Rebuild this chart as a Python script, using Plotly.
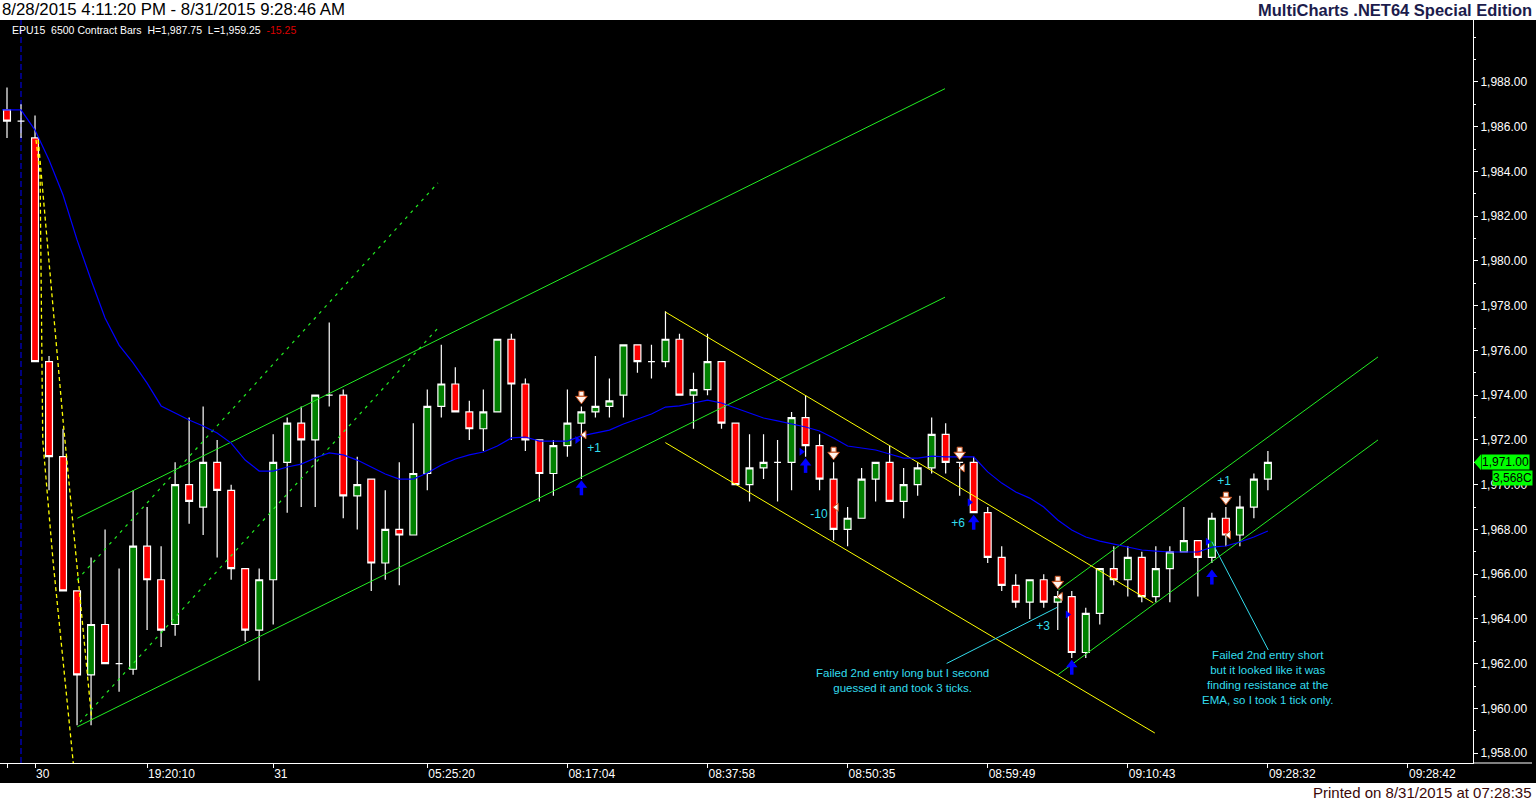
import plotly.graph_objects as go

# ---------------- data ----------------
bars = list(range(91))
open_ = [1986.75, 1986.25, 1985.5, 1975.5, 1971.25, 1965.25, 1961.5, 1963.75, 1962.0, 1961.75,
         1967.25, 1965.75, 1963.75, 1970.0, 1969.0, 1971.0, 1969.75, 1966.25, 1963.5, 1965.75,
         1971.0, 1972.75, 1972.0, 1974.0, 1974.0, 1969.5, 1970.25, 1966.5, 1968.0, 1967.75,
         1970.5, 1973.5, 1974.5, 1973.25, 1972.5, 1973.25, 1976.5, 1974.5, 1972.0, 1970.5,
         1971.75, 1972.75, 1973.25, 1973.5, 1974.0, 1976.25, 1975.5, 1975.5, 1976.5, 1974.0,
         1974.25, 1975.5, 1972.75, 1970.0, 1970.75, 1971.0, 1971.0, 1973.0, 1971.75, 1970.25,
         1968.0, 1968.5, 1970.25, 1971.0, 1969.25, 1970.0, 1970.75, 1972.25, 1971.0, 1971.0,
         1968.75, 1966.75, 1965.5, 1964.75, 1965.75, 1964.75, 1965.0, 1962.5, 1964.25, 1966.25,
         1965.75, 1966.75, 1965.0, 1966.25, 1967.0, 1967.5, 1966.75, 1968.5, 1967.75, 1969.0,
         1970.25]
high = [1987.75, 1987.0, 1986.5, 1975.75, 1972.5, 1965.25, 1966.75, 1968.0, 1966.25, 1969.75,
        1969.0, 1967.25, 1971.0, 1973.0, 1973.5, 1972.0, 1970.0, 1966.25, 1966.25, 1972.25,
        1973.0, 1973.5, 1974.0, 1977.25, 1974.25, 1971.25, 1970.25, 1969.75, 1971.0, 1972.75,
        1974.25, 1976.25, 1975.25, 1973.75, 1974.25, 1976.5, 1976.75, 1974.75, 1972.0, 1972.0,
        1974.25, 1973.5, 1975.75, 1974.75, 1976.25, 1976.25, 1976.25, 1977.75, 1976.75, 1975.0,
        1976.75, 1975.5, 1972.75, 1972.25, 1972.25, 1972.0, 1973.25, 1974.0, 1972.25, 1971.0,
        1969.0, 1970.75, 1971.0, 1971.75, 1970.75, 1971.0, 1973.0, 1972.75, 1971.0, 1971.25,
        1969.0, 1967.25, 1966.0, 1965.75, 1966.0, 1965.25, 1965.25, 1964.5, 1966.25, 1967.25,
        1967.25, 1967.0, 1967.25, 1967.25, 1969.0, 1967.5, 1968.75, 1969.0, 1969.5, 1970.5,
        1971.5]
low = [1985.5, 1985.5, 1975.5, 1969.75, 1965.25, 1959.25, 1959.25, 1962.0, 1960.75, 1961.5,
       1963.5, 1962.75, 1963.25, 1968.25, 1967.75, 1966.75, 1965.75, 1963.0, 1961.25, 1963.75,
       1968.75, 1969.0, 1969.0, 1973.5, 1968.5, 1968.0, 1965.25, 1965.75, 1965.5, 1967.75,
       1969.75, 1973.0, 1973.25, 1972.0, 1971.5, 1973.25, 1972.0, 1971.5, 1969.25, 1969.5,
       1971.25, 1970.25, 1973.0, 1973.0, 1973.0, 1975.0, 1974.75, 1975.25, 1974.0, 1972.5,
       1974.0, 1972.5, 1970.0, 1969.25, 1970.25, 1969.25, 1969.75, 1971.25, 1969.75, 1967.5,
       1967.25, 1968.5, 1969.25, 1969.25, 1968.5, 1969.5, 1970.5, 1970.5, 1969.5, 1968.75,
       1966.5, 1965.25, 1964.5, 1964.0, 1964.5, 1963.5, 1962.25, 1962.25, 1963.75, 1965.5,
       1965.0, 1964.75, 1964.75, 1964.75, 1967.0, 1965.0, 1966.5, 1967.25, 1967.25, 1968.5,
       1969.75]
close = [1986.25, 1986.25, 1975.5, 1971.25, 1965.25, 1961.5, 1963.75, 1962.0, 1962.0, 1967.25,
         1965.75, 1963.5, 1970.0, 1969.25, 1971.0, 1969.75, 1966.25, 1963.5, 1965.75, 1971.0,
         1972.75, 1972.0, 1974.0, 1974.0, 1969.5, 1970.0, 1966.5, 1968.0, 1967.75, 1970.5,
         1973.5, 1974.5, 1973.25, 1972.5, 1973.25, 1976.5, 1974.5, 1972.0, 1970.5, 1971.75,
         1972.75, 1973.25, 1973.5, 1973.75, 1976.25, 1975.5, 1975.5, 1976.5, 1974.0, 1974.25,
         1975.5, 1972.75, 1970.0, 1970.75, 1971.0, 1971.0, 1973.0, 1971.75, 1970.25, 1968.0,
         1968.5, 1970.25, 1971.0, 1969.25, 1970.0, 1970.75, 1972.25, 1971.0, 1971.0, 1968.75,
         1966.75, 1965.5, 1964.75, 1965.75, 1964.75, 1965.0, 1962.5, 1964.25, 1966.25, 1965.75,
         1966.75, 1965.0, 1966.25, 1967.0, 1967.5, 1966.75, 1968.5, 1967.75, 1969.0, 1970.25,
         1971.0]
ema = [1986.75, 1986.75, 1985.85, 1984.51, 1982.95, 1980.94, 1979.15, 1977.45, 1976.24, 1975.44,
       1974.54, 1973.52, 1973.20, 1972.89, 1972.62, 1972.31, 1971.86, 1971.10, 1970.61, 1970.61,
       1970.79, 1970.92, 1971.19, 1971.42, 1971.33, 1971.10, 1970.79, 1970.48, 1970.25, 1970.25,
       1970.52, 1970.88, 1971.15, 1971.33, 1971.46, 1971.73, 1972.09, 1972.13, 1971.95, 1971.95,
       1971.95, 1972.18, 1972.31, 1972.44, 1972.71, 1972.94, 1973.16, 1973.47, 1973.52, 1973.65,
       1973.78, 1973.65, 1973.43, 1973.20, 1972.98, 1972.85, 1972.71, 1972.58, 1972.40, 1972.09,
       1971.73, 1971.64, 1971.55, 1971.37, 1971.19, 1971.19, 1971.28, 1971.24, 1971.24, 1971.24,
       1970.57, 1970.07, 1969.67, 1969.40, 1969.00, 1968.42, 1967.97, 1967.66, 1967.48, 1967.35,
       1967.21, 1967.08, 1967.03, 1966.99, 1966.99, 1966.99, 1967.21, 1967.26, 1967.44, 1967.66,
       1967.93]

tick_bars = [0, 2, 10, 19, 30, 40, 50, 60, 70, 80, 90, 100]
tick_labels = ["", "30", "19:20:10", "31", "05:25:20", "08:17:04", "08:37:58",
               "08:50:35", "08:59:49", "09:10:43", "09:28:32", "09:28:42"]
price_ticks = [1958, 1960, 1962, 1964, 1966, 1968, 1970, 1972, 1974, 1976, 1978, 1980,
               1982, 1984, 1986, 1988]

# drawn trend lines: (bar, price) vertices
green_solid = [
    ([5.02, 66.95], [1968.50, 1987.70]),
    ([5.02, 66.95], [1959.18, 1978.38]),
    ([75.04, 97.86], [1965.29, 1975.71]),
    ([74.97, 97.86], [1961.49, 1972.00]),
]
green_dashed = [
    ([5.0, 30.76], [1965.74, 1983.49]),
    ([5.21, 30.76], [1959.39, 1977.00]),
]
yellow_solid = [
    ([46.99, 81.82], [1977.72, 1964.72]),
    ([46.99, 81.93], [1971.88, 1958.90]),
]
yellow_dashed = [
    ([2.07, 2.36, 2.55, 3.30, 4.26, 4.73], [1985.41, 1983.93, 1972.00, 1966.50, 1960.51, 1957.56]),
    ([2.23, 4.02, 6.05], [1985.41, 1972.74, 1959.48]),
]
cyan_leaders = [
    ([67.07, 74.97], [1962.01, 1964.52]),
    ([90.03, 86.0], [1962.61, 1967.45]),
]
session_break_bar = 1

sell_bars = [41, 59, 68, 75, 87]
sell_prices = [1973.93, 1971.43, 1971.43, 1965.66, 1969.42]
buy_bars = [41, 57, 69, 76, 86]
buy_prices = [1969.88, 1970.88, 1968.34, 1961.86, 1965.89]
entry_bars = [41, 57, 69, 76, 86]
entry_prices = [1972.0, 1971.47, 1969.21, 1964.20, 1967.45]
exit_bars = [41, 59, 68, 75, 87]
exit_prices = [1972.23, 1968.99, 1970.75, 1965.0, 1967.75]
pnl_text = ["+1", "-10", "+6", "+3", "+1"]
pnl_bars = [41.9, 57.96, 67.88, 73.95, 86.87]
pnl_prices = [1971.59, 1968.64, 1968.24, 1963.64, 1970.12]

note1 = "Failed 2nd entry long but I second<br>guessed it and took 3 ticks."
note1_pos = (63.95, 1961.25)
note2 = ("Failed 2nd entry short<br>but it looked like it was<br>finding resistance at the<br>"
         "EMA, so I took 1 tick only.")
note2_pos = (90.0, 1961.36)

# ---------------- figure ----------------
W, H = 1536, 801
ML, MR, MT, MB = 0, 63, 20, 38
PW, PH = W - ML - MR, H - MT - MB
Y0, Y1 = 1957.56, 1990.77
PPX = PH / (Y1 - Y0)          # pixels per price point


def px(x):
    return (x - ML) / PW


def py(y):
    return (H - MB - y) / PH


GREEN = "#22ee22"
CYAN = "#33ddee"
ORANGE = "#cc5522"
FONT = "Liberation Sans, Arial, sans-serif"

fig = go.Figure()


def line_trace(xs, ys, color, dash=None, width=1.0):
    fig.add_trace(go.Scatter(x=xs, y=ys, mode="lines",
                             line=dict(color=color, width=width, dash=dash),
                             hoverinfo="skip", showlegend=False))


for xs, ys in yellow_dashed:
    line_trace(xs, ys, "#ffff00", "4px,3px", 1.3)
for xs, ys in green_dashed:
    line_trace(xs, ys, GREEN, "3px,5px", 1.2)
for xs, ys in green_solid:
    line_trace(xs, ys, GREEN)
for xs, ys in yellow_solid:
    line_trace(xs, ys, "#ffff00")
for xs, ys in cyan_leaders:
    line_trace(xs, ys, CYAN)

fig.add_trace(go.Candlestick(
    x=bars, open=open_, high=high, low=low, close=close,
    increasing=dict(fillcolor="#008000", line=dict(color="white", width=1.2)),
    decreasing=dict(fillcolor="#ff0000", line=dict(color="white", width=1.2)),
    whiskerwidth=0, hoverinfo="skip", showlegend=False))

fig.add_trace(go.Scatter(x=[b - 0.35 if i == 0 else b for i, b in enumerate(bars)], y=ema,
                         mode="lines", line=dict(color="#0000ff", width=1.2),
                         hoverinfo="skip", showlegend=False))

# --- signal markers: block arrows built from shaft + head ---
shift = 3.0 / PPX
fig.add_trace(go.Scatter(x=sell_bars, y=[p + shift for p in sell_prices], mode="markers",
                         marker=dict(symbol="square", size=5, color="#fff4ee",
                                     line=dict(color=ORANGE, width=1)),
                         hoverinfo="skip", showlegend=False))
fig.add_trace(go.Scatter(x=sell_bars, y=[p - shift * 0.7 for p in sell_prices], mode="markers",
                         marker=dict(symbol="triangle-down", size=10, color="#fff4ee",
                                     line=dict(color=ORANGE, width=1)),
                         hoverinfo="skip", showlegend=False))
fig.add_trace(go.Scatter(x=buy_bars, y=[p - shift for p in buy_prices], mode="markers",
                         marker=dict(symbol="line-ns", size=7, color="#0000ff",
                                     line=dict(color="#0000ff", width=3.5)),
                         hoverinfo="skip", showlegend=False))
fig.add_trace(go.Scatter(x=buy_bars, y=[p + shift * 0.7 for p in buy_prices], mode="markers",
                         marker=dict(symbol="triangle-up", size=10, color="#0000ff",
                                     line=dict(width=0)),
                         hoverinfo="skip", showlegend=False))
fig.add_trace(go.Scatter(x=[b - 0.3 for b in entry_bars], y=entry_prices, mode="markers",
                         marker=dict(symbol="triangle-right", size=7, color="#0000ff"),
                         hoverinfo="skip", showlegend=False))
fig.add_trace(go.Scatter(x=[b + 0.2 for b in exit_bars], y=exit_prices, mode="markers",
                         marker=dict(symbol="triangle-left", size=7, color="white",
                                     line=dict(color=ORANGE, width=1)),
                         hoverinfo="skip", showlegend=False))
fig.add_trace(go.Scatter(x=pnl_bars, y=pnl_prices, mode="text", text=pnl_text,
                         textfont=dict(color=CYAN, size=12, family=FONT),
                         hoverinfo="skip", showlegend=False))

shapes = [
    dict(type="line", xref="x", yref="paper", x0=session_break_bar, x1=session_break_bar, y0=0, y1=1,
         line=dict(color="#0000ff", width=1, dash="6px,3px"), layer="below"),
    dict(type="rect", xref="paper", yref="paper", x0=px(0), x1=px(W), y0=py(MT), y1=py(0),
         fillcolor="white", line=dict(width=0), layer="above"),
    dict(type="rect", xref="paper", yref="paper", x0=px(0), x1=px(W), y0=py(H), y1=py(783),
         fillcolor="white", line=dict(width=0), layer="above"),
    dict(type="line", xref="paper", yref="paper", x0=1, x1=px(1532), y0=0, y1=0,
         line=dict(color="white", width=1)),
]
last = close[-1]
shapes.append(dict(type="path", xref="paper", yref="y",
                   path=f"M {px(1474)} {last} L {px(1481)} {last + 8 / PPX} L {px(1481)} {last - 8 / PPX} Z",
                   fillcolor="#00ff00", line=dict(width=0)))

annotations = [
    dict(text="8/28/2015 4:11:20 PM - 8/31/2015 9:28:46 AM", xref="paper", yref="paper",
         x=px(0), y=py(10), xanchor="left", yanchor="middle", showarrow=False,
         font=dict(family=FONT, size=16.8, color="black")),
    dict(text="<b>MultiCharts .NET64 Special Edition</b>", xref="paper", yref="paper",
         x=px(1534), y=py(10), xanchor="right", yanchor="middle", showarrow=False,
         font=dict(family=FONT, size=16.5, color="#1c1c4c")),
    dict(text="Printed on 8/31/2015 at 07:28:35", xref="paper", yref="paper",
         x=px(1534), y=py(792), xanchor="right", yanchor="middle", showarrow=False,
         font=dict(family=FONT, size=15, color="#3a0808")),
    dict(text="EPU15  6500 Contract Bars  H=1,987.75  L=1,959.25  <span style='color:#dd0000'>-15.25</span>",
         xref="paper", yref="paper", x=px(10), y=py(30), xanchor="left", yanchor="middle",
         showarrow=False, font=dict(family=FONT, size=10.5, color="white")),
    dict(text=note1, xref="x", yref="y", x=note1_pos[0], y=note1_pos[1], showarrow=False,
         align="center", font=dict(family=FONT, size=11.5, color=CYAN)),
    dict(text=note2, xref="x", yref="y", x=note2_pos[0], y=note2_pos[1], showarrow=False,
         align="center", font=dict(family=FONT, size=11.5, color=CYAN)),
    dict(text=f"{last:,.2f}", xref="paper", yref="y", x=px(1481), y=last, xanchor="left",
         yanchor="middle", showarrow=False, bgcolor="#00ff00", borderpad=0,
         font=dict(family=FONT, size=12, color="black")),
    dict(text="3,568C", xref="paper", yref="y", x=px(1533), y=last, yshift=-16, xanchor="right",
         yanchor="middle", showarrow=False, bgcolor="#00ff00", borderpad=0,
         font=dict(family=FONT, size=12, color="black")),
]

fig.update_layout(
    width=W, height=H,
    margin=dict(l=ML, r=MR, t=MT, b=MB, pad=0),
    paper_bgcolor="black", plot_bgcolor="black",
    showlegend=False,
    shapes=shapes, annotations=annotations,
    xaxis=dict(range=[-0.5, 104.64], showgrid=False, zeroline=False, rangeslider=dict(visible=False),
               showline=True, linecolor="white", linewidth=1,
               tickmode="array", tickvals=tick_bars, ticktext=tick_labels,
               ticks="outside", ticklen=4, tickcolor="white",
               ticklabelposition="outside right",
               tickfont=dict(family=FONT, size=12, color="white")),
    yaxis=dict(range=[Y0, Y1], side="right", showgrid=False, zeroline=False,
               showline=True, linecolor="white", linewidth=1,
               tickmode="array", tickvals=price_ticks, tickformat=",.2f",
               ticks="outside", ticklen=4, tickcolor="white",
               minor=dict(dtick=1, ticklen=2, tickcolor="white", ticks="outside"),
               tickfont=dict(family=FONT, size=12, color="white")),
)

fig.write_html("out.html", config={"displayModeBar": False},
               post_script="document.body.style.margin='0px';document.body.style.overflow='hidden';")
